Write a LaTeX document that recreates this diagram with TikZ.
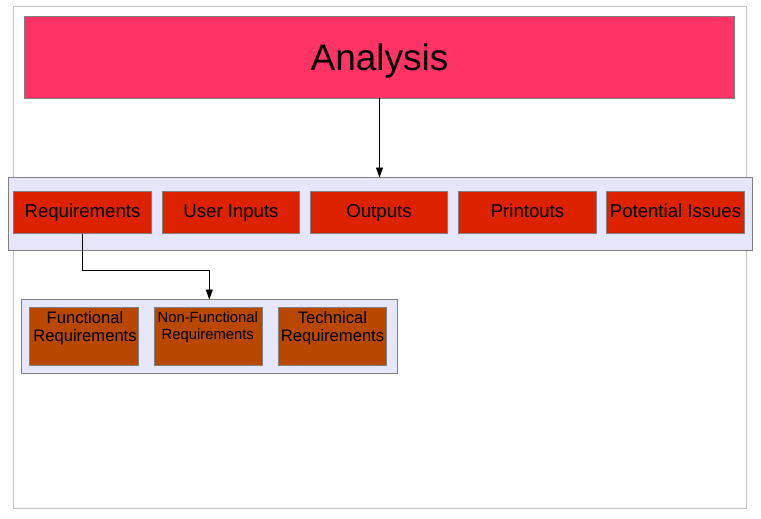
\documentclass[tikz,border=0pt]{standalone}
\usepackage{fontspec}
\setmainfont{Liberation Sans}
\usetikzlibrary{arrows.meta}
\definecolor{anafill}{RGB}{255,51,102}
\definecolor{redfill}{RGB}{221,34,0}
\definecolor{brownfill}{RGB}{184,71,0}
\definecolor{lav}{RGB}{230,230,250}
\definecolor{bordergray}{RGB}{128,128,128}
\definecolor{framegray}{RGB}{192,192,192}
\tikzset{
  boxbase/.style={draw=bordergray, line width=1pt, rectangle, inner sep=0pt, outer sep=0pt},
  container/.style={boxbase, fill=lav},
  topbox/.style={boxbase, fill=redfill, minimum height=42pt, font=\fontsize{18.6}{20}\selectfont, text height=13pt, text depth=4pt},
  subbox/.style={boxbase, fill=brownfill, minimum width=108pt, minimum height=58pt},
  subtext/.style={anchor=north, align=center, inner sep=0pt, font=\fontsize{16.6}{18.7}\selectfont},
  arrowline/.style={draw=black, line width=0.8pt, -{Triangle[length=10pt,width=7pt]}}
}
\begin{document}
\begin{tikzpicture}[x=1pt,y=-1pt]
\useasboundingbox (0,0) rectangle (761,519);
% outer frame
\draw[framegray, line width=1pt] (13.5,6.5) rectangle (746.5,508.5);
% analysis
\node[boxbase, fill=anafill, minimum width=710pt, minimum height=82pt, font=\fontsize{37}{40}\selectfont, text height=26pt, text depth=0pt] (ana) at (379.5,57.5) {Analysis};
% container 1
\node[container, minimum width=744pt, minimum height=73pt] (c1) at (380.5,214) {};
\node[topbox, minimum width=138pt] (req) at (82.5,212.5) {Requirements};
\node[topbox, minimum width=137pt] (ui) at (231,212.5) {User Inputs};
\node[topbox, minimum width=137pt] (out) at (379,212.5) {Outputs};
\node[topbox, minimum width=138pt] (pri) at (527.5,212.5) {Printouts};
\node[topbox, minimum width=138pt] (pot) at (675.5,212.5) {Potential Issues};
% container 2
\node[container, minimum width=376pt, minimum height=74pt] (c2) at (209.5,336.5) {};
\node[subbox, minimum width=109pt] (fr) at (84,336.5) {};
\node[subbox] (nfr) at (208.5,336.5) {};
\node[subbox] (tr) at (332.5,336.5) {};
\node[subtext] (frt) at (85,311) {Functional\\Requirements};
\node[subtext, font=\fontsize{14.8}{17.7}\selectfont] (nfrt) at (207.8,311.3) {Non-Functional\\Requirements};
\node[subtext] (trt) at (332.5,311) {Technical\\Requirements};
% connectors
\draw[arrowline] (ana.south) -- (ana.south |- c1.north);
\coordinate (bend) at (209.3,270);
\draw[arrowline] (req.south) |- (bend) -- (bend |- c2.north);
\end{tikzpicture}
\end{document}
